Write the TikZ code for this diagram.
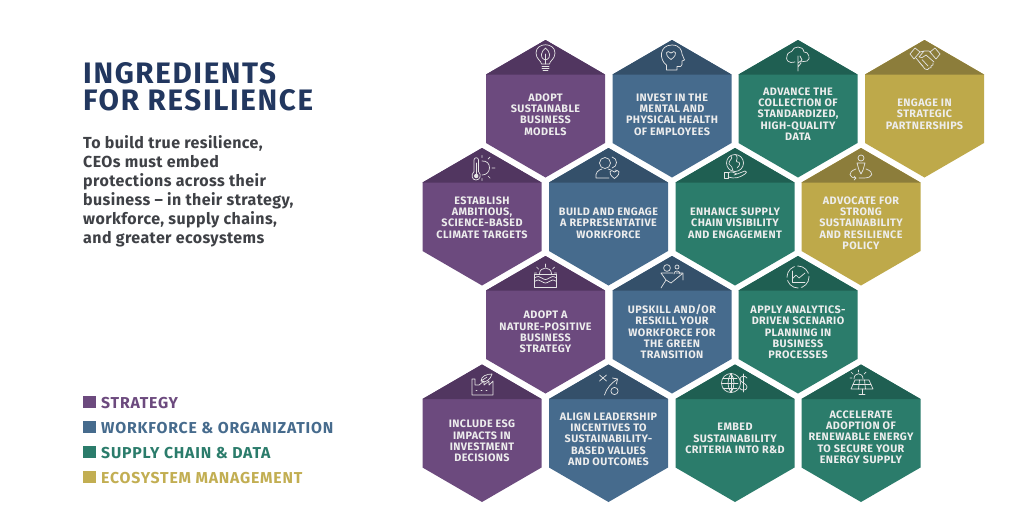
\documentclass[tikz,border=0pt]{standalone}
\usepackage{fontspec}
\setmainfont{Fira Sans}
\newfontfamily\hexfont[LetterSpace=3.7]{Fira Sans}
\newfontfamily\legfont[LetterSpace=5]{Fira Sans}
\newfontfamily\leadfont[LetterSpace=2.6]{Fira Sans}
\newfontfamily\ttlfont[LetterSpace=5.5]{Fira Sans}
\definecolor{purpB}{HTML}{6C4A7E}\definecolor{purpT}{HTML}{513660}
\definecolor{blueB}{HTML}{466B8D}\definecolor{blueT}{HTML}{34506A}
\definecolor{greenB}{HTML}{2B7C6B}\definecolor{greenT}{HTML}{1F5F52}
\definecolor{goldB}{HTML}{BEA94A}\definecolor{goldT}{HTML}{8C7D3B}
\definecolor{navy}{HTML}{22375F}\definecolor{bodygray}{HTML}{3F4146}
\definecolor{goldL}{HTML}{C2AE52}
\tikzset{
 hexlabel/.style={text=white!93!black,font=\hexfont\bfseries\fontsize{10.8}{11.33}\selectfont,align=center,inner sep=0pt},
 ico/.style={draw=white!90!black,line width=.7pt,line cap=round,line join=round},
 legendbox/.style={minimum width=13pt,minimum height=12pt,inner sep=0pt,anchor=west},
 legendtext/.style={font=\legfont\bfseries\fontsize{15.8}{16}\selectfont,anchor=base west,inner sep=0pt},
 titletext/.style={text=navy,font=\ttlfont\bfseries\fontsize{29.6}{27}\selectfont,anchor=base west,inner sep=0pt},
 leadtext/.style={text=bodygray,font=\leadfont\bfseries\fontsize{16}{19}\selectfont,anchor=base west,inner sep=0pt},
}
% \hexa{name}{cx}{ytop}{colour}{text y}{text}
\newcommand{\hexa}[6]{%
 \fill[#4B] (#2-59.5,#3+34.5) -- (#2,#3) -- (#2+59.5,#3+34.5) -- (#2+59.5,#3+103) -- (#2,#3+137.5) -- (#2-59.5,#3+103) -- cycle;
 \fill[#4T] (#2-59.5,#3+34.5) -- (#2,#3) -- (#2+59.5,#3+34.5) -- cycle;
 \node[hexlabel] (#1) at (#2,#5) {#6};}
\newcommand{\hrt}[2]{\draw[ico] (#1,#2+4.5) .. controls (#1-8,#2-1) and (#1-4,#2-6) .. (#1,#2-2) .. controls (#1+4,#2-6) and (#1+8,#2-1) .. (#1,#2+4.5) -- cycle;}
\begin{document}
\begin{tikzpicture}[x=1pt,y=-1pt]
\useasboundingbox (0,0) rectangle (1021,515);
\fill[white] (0,0) rectangle (1021,515);
% left text
\node[titletext] (t1) at (83,83) {INGREDIENTS};
\node[titletext] (t2) at (83,110) {FOR RESILIENCE};
\node[leadtext] (l1) at (83,148) {To build true resilience,};
\node[leadtext] (l2) at (83,167) {CEOs must embed};
\node[leadtext] (l3) at (83,186) {protections across their};
\node[leadtext] (l4) at (83,205) {business – in their strategy,};
\node[leadtext] (l5) at (83,224) {workforce, supply chains,};
\node[leadtext] (l6) at (83,243) {and greater ecosystems};
% legend
\node[legendbox,fill=purpB] (k1) at (83,402) {};
\node[legendbox,fill=blueB] (k2) at (83,427) {};
\node[legendbox,fill=greenB] (k3) at (83,452) {};
\node[legendbox,fill=goldL] (k4) at (83,477) {};
\node[legendtext,text=purpB] (n1) at (101,408) {STRATEGY};
\node[legendtext,text=blueB] (n2) at (101,433) {WORKFORCE \& ORGANIZATION};
\node[legendtext,text=greenB] (n3) at (101,458) {SUPPLY CHAIN \& DATA};
\node[legendtext,text=goldL] (n4) at (101,483) {ECOSYSTEM MANAGEMENT};
% hexagons
\hexa{h1}{545.5}{40}{purp}{114.5}{ADOPT\\SUSTAINABLE\\BUSINESS\\MODELS}
\hexa{h2}{672}{40}{blue}{114.5}{INVEST IN THE\\MENTAL AND\\PHYSICAL HEALTH\\OF EMPLOYEES}
\hexa{h3}{798}{40}{green}{114}{ADVANCE THE\\COLLECTION OF\\STANDARDIZED,\\HIGH-QUALITY\\DATA}
\hexa{h4}{924.5}{40}{gold}{114}{ENGAGE IN\\STRATEGIC\\PARTNERSHIPS}
\hexa{h5}{482}{148}{purp}{217.5}{ESTABLISH\\AMBITIOUS,\\SCIENCE-BASED\\CLIMATE TARGETS}
\hexa{h6}{608.5}{148}{blue}{223}{BUILD AND ENGAGE\\A REPRESENTATIVE\\WORKFORCE}
\hexa{h7}{735}{148}{green}{223}{ENHANCE SUPPLY\\CHAIN VISIBILITY\\AND ENGAGEMENT}
\hexa{h8}{861}{148}{gold}{223}{ADVOCATE FOR\\STRONG\\SUSTAINABILITY\\AND RESILIENCE\\POLICY}
\hexa{h9}{545.5}{256}{purp}{332}{ADOPT A\\NATURE-POSITIVE\\BUSINESS\\STRATEGY}
\hexa{h10}{672}{256}{blue}{332}{UPSKILL AND/OR\\RESKILL YOUR\\WORKFORCE FOR\\THE GREEN\\TRANSITION}
\hexa{h11}{798}{256}{green}{332.5}{APPLY ANALYTICS-\\DRIVEN SCENARIO\\PLANNING IN\\BUSINESS\\PROCESSES}
\hexa{h12}{482}{364.5}{purp}{441}{INCLUDE ESG\\IMPACTS IN\\INVESTMENT\\DECISIONS}
\hexa{h13}{608.5}{364.5}{blue}{439}{ALIGN LEADERSHIP\\INCENTIVES TO\\SUSTAINABILITY-\\BASED VALUES\\AND OUTCOMES}
\hexa{h14}{735}{364.5}{green}{438.5}{EMBED\\SUSTAINABILITY\\CRITERIA INTO R\&D}
\hexa{h15}{861}{364.5}{green}{437}{ACCELERATE\\ADOPTION OF\\RENEWABLE ENERGY\\TO SECURE YOUR\\ENERGY SUPPLY}
% icons
\begin{scope}[shift={(545.5,58)}] % bulb
 \draw[ico] (-4,6) .. controls (-4,3) and (-9.5,1) .. (-9.5,-5) .. controls (-9.5,-16) and (9.5,-16) .. (9.5,-5) .. controls (9.5,1) and (4,3) .. (4,6) -- cycle;
 \draw[ico] (0,6) -- (0,-4) (0,2) .. controls (-7,0) and (-4,-7) .. (0,-10) .. controls (4,-7) and (7,0) .. (0,2);
 \draw[ico] (-3.5,8.5) -- (3.5,8.5) (-3.5,10.5) -- (3.5,10.5) (-2.5,12.5) -- (2.5,12.5);
\end{scope}
\begin{scope}[shift={(672,58)}] % head
 \draw[ico] (-5.5,12) -- (-5.5,7) .. controls (-13,2) and (-13,-13) .. (0,-13) .. controls (8,-13) and (10,-7) .. (10,-4) -- (12.5,2) -- (10,3) -- (10,6.5) .. controls (10,9) and (8,9) .. (5,8.5) -- (5,12) -- cycle;
 \hrt{-1}{-3}
\end{scope}
\begin{scope}[shift={(798,57)}] % cloud
 \draw[ico] (-3,5) .. controls (-9,7) and (-13,3) .. (-11,-1) .. controls (-11,-5) and (-6,-5) .. (-6,-6) .. controls (-5,-11) and (5,-12) .. (6,-5) .. controls (11,-6) and (13,3) .. (9,4) -- (2,5);
 \draw[ico] (0,14) -- (0,-1) (0,6) -- (4,3) (4,3) -- (2,-1) (0,10) -- (3,6);
\end{scope}
\begin{scope}[shift={(925,60)}] % handshake
 \draw[ico] (-15,-6) -- (-10,-12) -- (-5,-8) -- (-11,-1) -- cycle;
 \draw[ico] (15,-6) -- (10,-12) -- (5,-8) -- (11,-1) -- cycle;
 \draw[ico] (-5,-8) -- (-1,-9) -- (4,-9) -- (6,-7) (-1,-9) -- (-6,-3) .. controls (-4,-1) and (-2,-3) .. (1,-5) -- (9,2);
 \draw[ico] (-9,-2) -- (0,9) .. controls (2,11) and (4,9) .. (4,8) (4,8) .. controls (6,9) and (7,7) .. (6,6) (6,6) .. controls (8,6) and (9,4) .. (8,3);
 \draw[ico] (-6,2) -- (-2,6) (-3,-0.5) -- (3,6);
\end{scope}
\begin{scope}[shift={(482,168)}] % thermometer sun
 \draw[ico] (-8,3.5) -- (-8,-8) .. controls (-8,-11) and (-3.5,-11) .. (-3.5,-8) -- (-3.5,3.5) .. controls (0,7) and (-2,12) .. (-6,12) .. controls (-10,12) and (-11.5,7) .. (-8,3.5) -- cycle;
 \fill[white!90!black] (-5.8,8) circle (2.2);
 \draw[ico] (-5.8,8) -- (-5.8,-5);
 \draw[ico] (0,-7) .. controls (10,-8) and (10,7) .. (0,7);
 \draw[ico] (0,-10.5) -- (0,-12.5) (6,-9) -- (8,-11) (10,0) -- (13,0) (6,8) -- (8,10) (0,10.5) -- (0,12.5);
\end{scope}
\begin{scope}[shift={(609,168)}] % people heart
 \draw[ico] (-4,-5) circle (5.5);
 \draw[ico] (-13,10) .. controls (-14,5) and (-11,2) .. (-7,1) (-1,1) .. controls (0,1.5) and (1,1.5) .. (2,2) (-13,10) -- (0,10);
 \draw[ico] (3,-11) .. controls (9,-10) and (9,-1) .. (3,0) (6,2) -- (8,2.5);
 \hrt{5.5}{6}
\end{scope}
\begin{scope}[shift={(735,168)}] % globe hand
 \draw[ico] (0,-5) circle (8.5);
 \draw[ico] (-4,-12) .. controls (-1,-9) and (-7,-8) .. (-6,-4) .. controls (-3,-3) and (-3,0) .. (-2,3) (1,-13) .. controls (4,-10) and (0,-7) .. (2,-6) .. controls (6,-7) and (5,-2) .. (2,0);
 \draw[ico] (-11,4) rectangle (-7,10);
 \draw[ico] (-7,5) .. controls (-4,3) and (-2,4) .. (2,6) -- (-1,7) (2,6) -- (10,3) .. controls (12,3) and (12,5) .. (10,6) .. controls (4,10) and (0,11) .. (-7,9);
\end{scope}
\begin{scope}[shift={(861,167)}] % person path
 \draw[ico] (0,-9) circle (3);
 \draw[ico] (-4,-4) -- (4,-4) -- (2,3) -- (0,7) -- (-2,3) -- cycle;
 \draw[ico] (-5,2) .. controls (-14,5) and (-12,11) .. (-5,11) (-7,9) -- (-5,11) -- (-7,13);
 \draw[ico] (5,2) .. controls (14,5) and (12,11) .. (3,11) -- (-2,11);
\end{scope}
\begin{scope}[shift={(545.5,277)}] % sea
 \draw[ico] (-6,-3) .. controls (-6,-11) and (6,-11) .. (6,-3);
 \draw[ico] (0,-10) -- (0,-13) (-7,-8) -- (-9,-10) (7,-8) -- (9,-10) (-9,-4) -- (-11,-4) (9,-4) -- (11,-4);
 \draw[ico] (-11,-3) -- (11,-3) (-11,-3) -- (-11,10) -- (11,10) -- (11,-3);
 \foreach \yy in {1,4.5}{\draw[ico] (-11,\yy) .. controls (-8,\yy-2) and (-6,\yy-2) .. (-3.7,\yy) .. controls (-1,\yy+2) and (1,\yy+2) .. (3.7,\yy) .. controls (6,\yy-2) and (8,\yy-2) .. (11,\yy);}
\end{scope}
\begin{scope}[shift={(672,277)}] % people arrow
 \draw[ico] (-5,-9) circle (3.4);
 \draw[ico] (5,-10) circle (2);
 \draw[ico] (2,-3) .. controls (2,-7) and (8,-7) .. (8,-3);
 \draw[ico] (-11,-4) -- (1,-4) (-11,-4) -- (-6,3) -- (-11,11) (-6,3) -- (-1,6) -- (10,-3) (4,-4) -- (11,-4) -- (11,3);
\end{scope}
\begin{scope}[shift={(798,277)}] % chart circle
 \draw[ico,dash pattern=on 14pt off 3pt] (0,0) circle (11);
 \draw[ico] (-6,-6) -- (-6,5) -- (7,5);
 \draw[ico] (-6,2) -- (-2,-2) -- (1,1) -- (7,-4);
\end{scope}
\begin{scope}[shift={(482,385)}] % factory
 \draw[ico] (-10,-6) -- (-10,10) -- (11,10) -- (11,-4) -- (7,0) -- (7,-4) -- (2,0) -- (2,-4) -- (-3,0) -- (-7,0) -- (-7,-6) -- cycle;
 \draw[ico] (-1,-4) .. controls (-1,-9) and (5,-11) .. (10,-11) .. controls (9,-6) and (3,-1) .. (-1,-4) (-1,-4) -- (5,-8);
 \draw[ico] (-6,5) -- (-5,5) (-1,5) -- (0,5) (4,5) -- (5,5);
\end{scope}
\begin{scope}[shift={(608.5,385)}] % x arrow o
 \draw[ico] (-9,-10) -- (-2,-4) (-2,-10) -- (-9,-4);
 \draw[ico] (6,6) circle (3.6);
 \draw[ico] (-4,10) .. controls (-2,3) and (3,-2) .. (9,-6);
 \draw[ico] (4,-7) -- (9,-6) -- (8,-1);
\end{scope}
\begin{scope}[shift={(735,383)}] % globe dollar
 \draw[ico] (-4,0) circle (9.5);
 \draw[ico] (-4,-9.5) .. controls (-8,-4) and (-8,4) .. (-4,9.5) (-4,-9.5) .. controls (0,-4) and (0,4) .. (-4,9.5);
 \draw[ico] (-4,-9.5) -- (-4,9.5) (-13.5,0) -- (3,0) (-12,-5) -- (2,-5) (-12,5) -- (2,5);
 \draw[ico] (12,-5) .. controls (10,-8) and (5,-7) .. (5,-4) .. controls (5,0) and (12,0) .. (12,4) .. controls (12,8) and (6,8) .. (4.5,5);
 \draw[ico] (8.5,-9) -- (8.5,9);
\end{scope}
\begin{scope}[shift={(862,383)}] % solar
 \draw[ico] (-8,-4) .. controls (-8,-11) and (1,-11) .. (1,-4);
 \draw[ico] (-3.5,-11) -- (-3.5,-13) (-9,-9) -- (-11,-11) (2,-9) -- (4,-11) (-10,-5) -- (-12,-5);
 \draw[ico] (-7,-3) -- (7,-3) -- (11,6) -- (-11,6) -- cycle;
 \draw[ico] (-2.5,-3) -- (-3.5,6) (2.5,-3) -- (3.5,6) (-9,1.5) -- (9,1.5);
 \draw[ico] (0,6) -- (0,11) (-3,11) -- (3,11);
\end{scope}
\end{tikzpicture}
\end{document}
